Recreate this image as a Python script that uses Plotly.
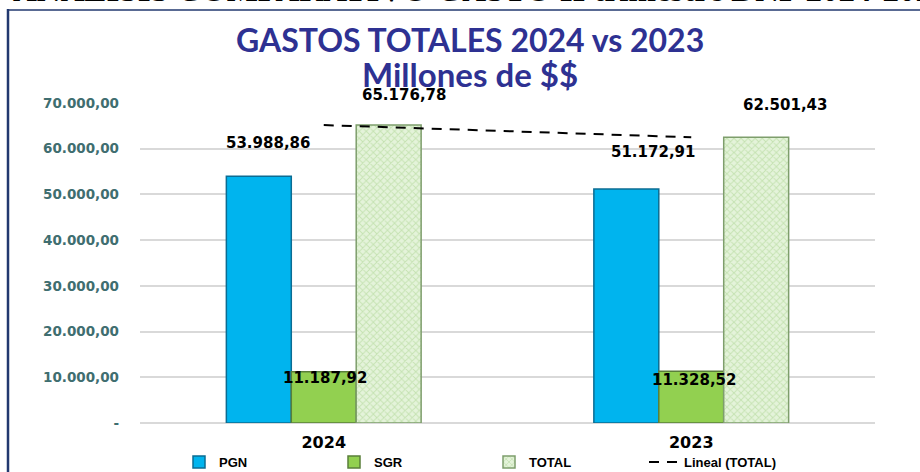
import plotly.graph_objects as go

# ---- data ----
categories = ["2024", "2023"]
pgn = [53988.86, 51172.91]
sgr = [11187.92, 11328.52]
total = [65176.78, 62501.43]
y_tick_vals = [0, 10000, 20000, 30000, 40000, 50000, 60000, 70000]
y_tick_text = ["-", "10.000,00", "20.000,00", "30.000,00", "40.000,00",
               "50.000,00", "60.000,00", "70.000,00"]
series_names = ["PGN", "SGR", "TOTAL", "Lineal (TOTAL)"]
title_line1 = "GASTOS TOTALES 2024 vs 2023"
title_line2 = "Millones de $$"
header_text = "ANALISIS COMPARATIVO GASTO II trimestre DNP 2024-2023"


def es_fmt(v):
    s = f"{v:,.2f}"
    return s.replace(",", "X").replace(".", ",").replace("X", ".")


# plot-area geometry in page pixels (body margin removed below)
OFF = 0
W, H = 920, 472
L, R, T, B = 140, 45, 103, 49
PW, PH = W - L - R, H - T - B


def px(x):  # page pixel x -> paper
    return (x - OFF - L) / PW


def py(y):  # page pixel y -> paper
    return (H - B - (y - OFF)) / PH


fig = go.Figure()

fig.add_trace(go.Bar(
    x=categories, y=pgn, name=series_names[0],
    marker=dict(color="#00B4EE", line=dict(color="#0B6C93", width=1.5)),
))
fig.add_trace(go.Bar(
    x=categories, y=sgr, name=series_names[1],
    marker=dict(color="#92D050", line=dict(color="#5A7F3A", width=1.5)),
))
fig.add_trace(go.Bar(
    x=categories, y=total, name=series_names[2],
    marker=dict(color="#DCEFCF",
                pattern=dict(shape="x", fgcolor="#A6D08A", bgcolor="#E4F3DA",
                             size=5, solidity=0.35),
                line=dict(color="#7E9E6C", width=1.5)),
))
fig.add_trace(go.Scatter(
    x=categories, y=total, name=series_names[3], mode="lines",
    line=dict(color="black", width=2, dash="10px,8px"),
))

# value labels (x given as category index)
label_font = dict(family="DejaVu Sans", size=15, color="black", weight="bold")
label_specs = [
    (pgn, [-56, -38], [33, 37]),
    (sgr, [1, 3], [-6, -9]),
    (total, [80, 94], [30, 32]),
]
for vals, xs, ys in label_specs:
    for i in range(len(categories)):
        fig.add_annotation(x=i, y=vals[i], text=es_fmt(vals[i]),
                           showarrow=False, xshift=xs[i], yshift=ys[i],
                           font=label_font, xanchor="center", yanchor="middle")

# titles
title_font = dict(family="Lato", size=32, color="#2E3192", weight="bold")
fig.add_annotation(xref="paper", yref="paper", x=px(470), y=py(39),
                   text=title_line1, showarrow=False, font=title_font,
                   xanchor="center", yanchor="middle")
fig.add_annotation(xref="paper", yref="paper", x=px(470), y=py(74),
                   text=title_line2, showarrow=False,
                   font=dict(family="Lato", size=33, color="#2E3192",
                             weight="bold"),
                   xanchor="center", yanchor="middle")

# header (cut off at top of page)
fig.add_annotation(xref="paper", yref="paper", x=px(11), y=py(-10),
                   text=header_text, showarrow=False,
                   font=dict(family="Liberation Serif", size=33, color="black",
                             weight="bold"),
                   xanchor="left", yanchor="middle")

# frame
frame_color = "#22386F"
fig.add_shape(type="line", xref="paper", yref="paper",
              x0=px(8), x1=px(8), y0=py(9), y1=py(490),
              line=dict(color=frame_color, width=2.5))
fig.add_shape(type="line", xref="paper", yref="paper",
              x0=px(7), x1=px(940), y0=py(10), y1=py(10),
              line=dict(color=frame_color, width=1.5))

fig.update_layout(
    width=W, height=H,
    margin=dict(l=L, r=R, t=T, b=B, autoexpand=False),
    paper_bgcolor="white", plot_bgcolor="white",
    barmode="group", bargap=0.47, bargroupgap=0,
    showlegend=True,
    legend=dict(orientation="h", x=px(179), y=py(462), xanchor="left",
                yanchor="middle", entrywidth=110, entrywidthmode="pixels",
                font=dict(family="Liberation Sans", size=13, color="black",
                          weight="bold"),
                bgcolor="rgba(0,0,0,0)", traceorder="normal"),
    xaxis=dict(type="category", range=[-0.5, 1.5], showgrid=False,
               showline=False, ticks="", ticklabelstandoff=8,
               tickfont=dict(family="DejaVu Sans", size=16, color="black",
                             weight="bold")),
    yaxis=dict(range=[0, 70000], tickvals=y_tick_vals, ticktext=y_tick_text,
               showgrid=True, gridcolor="#D9D9D9", gridwidth=1.5,
               zeroline=True, zerolinecolor="#D9D9D9", zerolinewidth=1.5,
               showline=False, ticks="", ticklabelstandoff=20,
               tickfont=dict(family="DejaVu Sans", size=13.5, color="#3F6E70",
                             weight="bold")),
)

fig.write_html("out.html",
               config={"displayModeBar": False},
               post_script="document.body.style.margin='0';"
                           "document.body.style.overflow='hidden';")
